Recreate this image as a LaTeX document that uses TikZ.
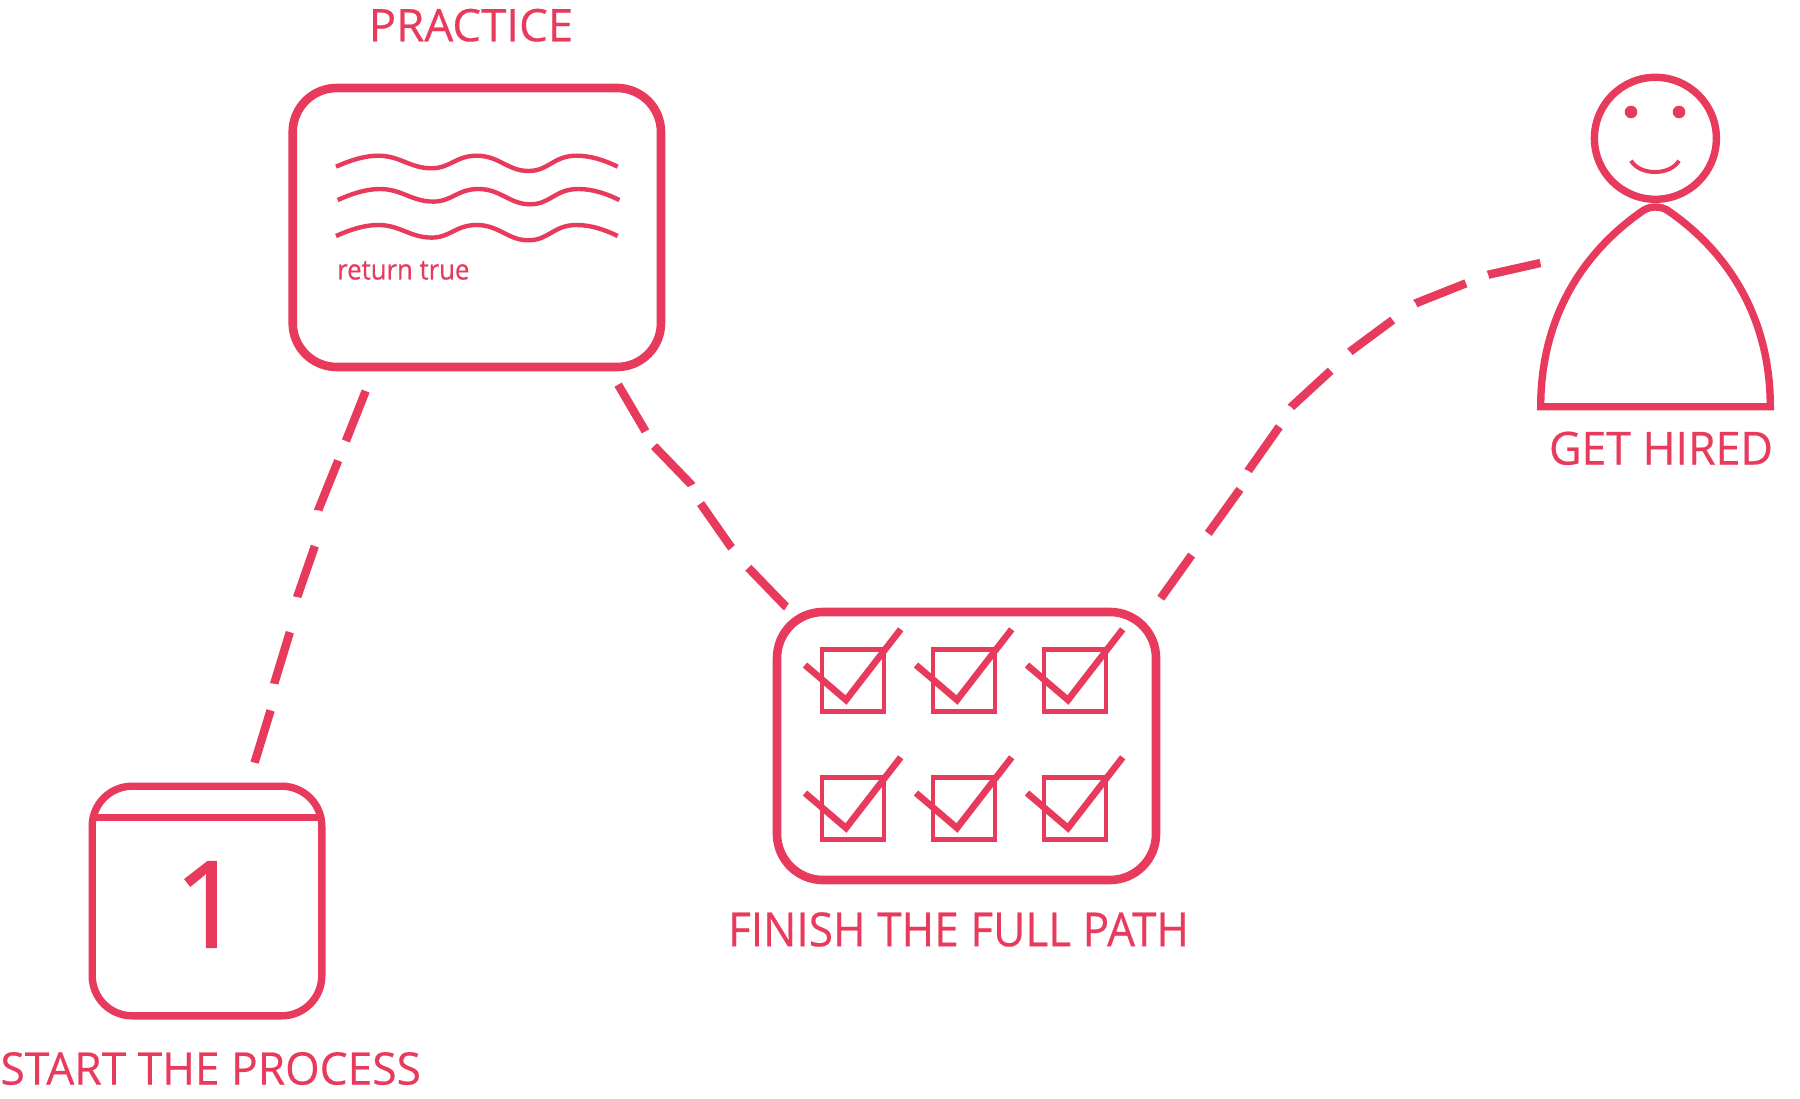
\documentclass[tikz,border=0pt]{standalone}
\usepackage{graphicx}
\usepackage{fontspec}
\setmainfont{Open Sans}
\newfontfamily\lblfont[FakeBold=0.45]{Open Sans}
\newfontfamily\onefont[FakeBold=1.3]{Open Sans}
\definecolor{accent}{HTML}{E83A5C}
\newcommand{\labeltext}[6]{\node[lbl] (#1) at (#2,#3) {\resizebox{#4pt}{#5pt}{#6}};}
\tikzset{
  lbl/.style={inner sep=0pt,outer sep=0pt,anchor=south west,text=accent,font=\lblfont\fontsize{45pt}{50pt}\selectfont},
  bigbox/.style={draw=accent,line width=8.6pt,rounded corners=44pt,inner sep=0pt,outer sep=0pt},
  calbox/.style={draw=accent,line width=7.4pt,rounded corners=40pt,inner sep=0pt,outer sep=0pt,minimum width=229.6pt,minimum height=229.6pt},
  conn/.style={draw=accent,line width=8.4pt,line cap=butt,line join=round},
  wave/.pic={\draw[accent,line width=4.4pt] (0,0) .. controls (14,-6.2) and (28,-11) .. (42.3,-11)
      .. controls (64,-11) and (74,1.6) .. (95.7,1.6)
      .. controls (114,1.6) and (120,-11) .. (140.7,-11)
      .. controls (163,-11) and (172,4.3) .. (192.3,4.3)
      .. controls (213,4.3) and (217,-11) .. (240.7,-11)
      .. controls (255,-11) and (269,-6.2) .. (281.7,0);},
  tickbox/.pic={\draw[accent,line width=4.3pt] (0,0) rectangle (62,62);
      \draw[accent,line width=6.6pt,miter limit=10] (-17,15.5) -- (24,50.5) -- (78.7,-20.2);}
}
\begin{document}
\begin{tikzpicture}[x=1pt,y=-1pt]
\useasboundingbox (0,0) rectangle (1800,1099);
% boxes
\node[bigbox,minimum width=368.3pt,minimum height=279pt] (practice) at (476.85,227.5) {};
\node[bigbox,minimum width=379pt,minimum height=268pt,rounded corners=46pt] (finish) at (966.5,746) {};
\node[calbox] (cal) at (207,901) {};
\node[inner sep=0pt,outer sep=0pt,minimum width=229.6pt,minimum height=200pt] (person) at (1655.5,307) {};
% practice contents
\pic at (336,166.7) {wave};
\pic at (337.7,200) {wave};
\pic at (336,236) {wave};
\node[inner sep=0pt,anchor=base west,text=accent,font=\lblfont\fontsize{28pt}{32pt}\selectfont] (ret) at (337,279.5) {\scalebox{0.92}[1]{return true}};
% checks
\foreach \cx in {0,111,222}{\foreach \cy in {0,128}{
  \pic at (822+\cx,649.5+\cy) {tickbox};
}}
% calendar contents
\draw[accent,line width=7.4pt] (cal.west |- 0,817.7) -- (cal.east |- 0,817.7);
\node[inner sep=0pt,text=accent,font=\onefont\fontsize{120pt}{130pt}\selectfont,anchor=base] (one) at (208.5,947.3) {1};
% person
\draw[accent,line width=7.4pt] (1655.4,138.3) circle (61);
\fill[accent] (1631,112) circle (6.3);
\fill[accent] (1679,112) circle (6.3);
\draw[accent,line width=4pt] (1631,160.7) .. controls (1640,175.8) and (1670,175.8) .. (1679,160.7);
\draw[accent,line width=7.4pt,miter limit=10] (1540.7,406.7) .. controls (1540.7,310) and (1590,246.7) .. (1644,210)
   .. controls (1651,206) and (1660,206) .. (1667,210)
   .. controls (1721,246.7) and (1770.3,310) .. (1770.3,406.7) -- cycle;
% labels
\labeltext{lpractice}{368.7}{41.7}{204.5}{32.5}{PRACTICE}
\labeltext{lfinish}{728}{946.7}{461}{34}{FINISH THE FULL PATH}
\labeltext{lhired}{1549}{465}{224}{33}{GET HIRED}
\labeltext{lstart}{0.5}{1085}{420.5}{32.5}{START THE PROCESS}
% connectors
\draw[conn,dash pattern=on 0pt off 24.8pt on 53.7pt off 21.1pt on 53.6pt off 35.9pt on 54pt off 35.8pt on 53.9pt off 26.9pt on 54.7pt off 60pt]
  (practice.233.03) -- (365.7,391) -- (346,440.7) -- (338.3,460.3) -- (318.3,510) -- (315,545.7) -- (297.3,596.7) -- (290,631.7) -- (274.3,683.3) -- (270.7,710) -- (254.7,762.3) -- (cal.70.6);
\draw[conn,dash pattern=on 0pt off 18.9pt on 54.1pt off 17.1pt on 54.2pt off 20.4pt on 54.1pt off 26pt on 54.7pt off 60pt]
  (practice.-46.8) -- (617.3,383.3) -- (644.7,430) -- (653,445) -- (690.7,484) -- (699.7,502.3) -- (730.7,546.7) -- (747.3,566.7) -- (785.3,606) -- (finish.142.6);
\draw[conn,dash pattern=on 0pt off 16.9pt on 53.1pt off 27.3pt on 54.2pt off 20.4pt on 53.9pt off 23pt on 53.6pt off 27.1pt on 53.2pt off 28.4pt on 54.1pt off 23.9pt on 53.5pt off 60pt]
  (finish.36) -- (1160.7,598.3) -- (1191.7,555) -- (1208.3,533.3) -- (1240,489.3) -- (1248.3,470.7) -- (1279.3,426.7) -- (1291.2,407) -- (1330.7,370.7) -- (1350,351.7) -- (1392.7,320) -- (1415.7,303.3) -- (1466,283.3) -- (1488.3,274.7) -- (person.159.47);
\end{tikzpicture}
\end{document}
